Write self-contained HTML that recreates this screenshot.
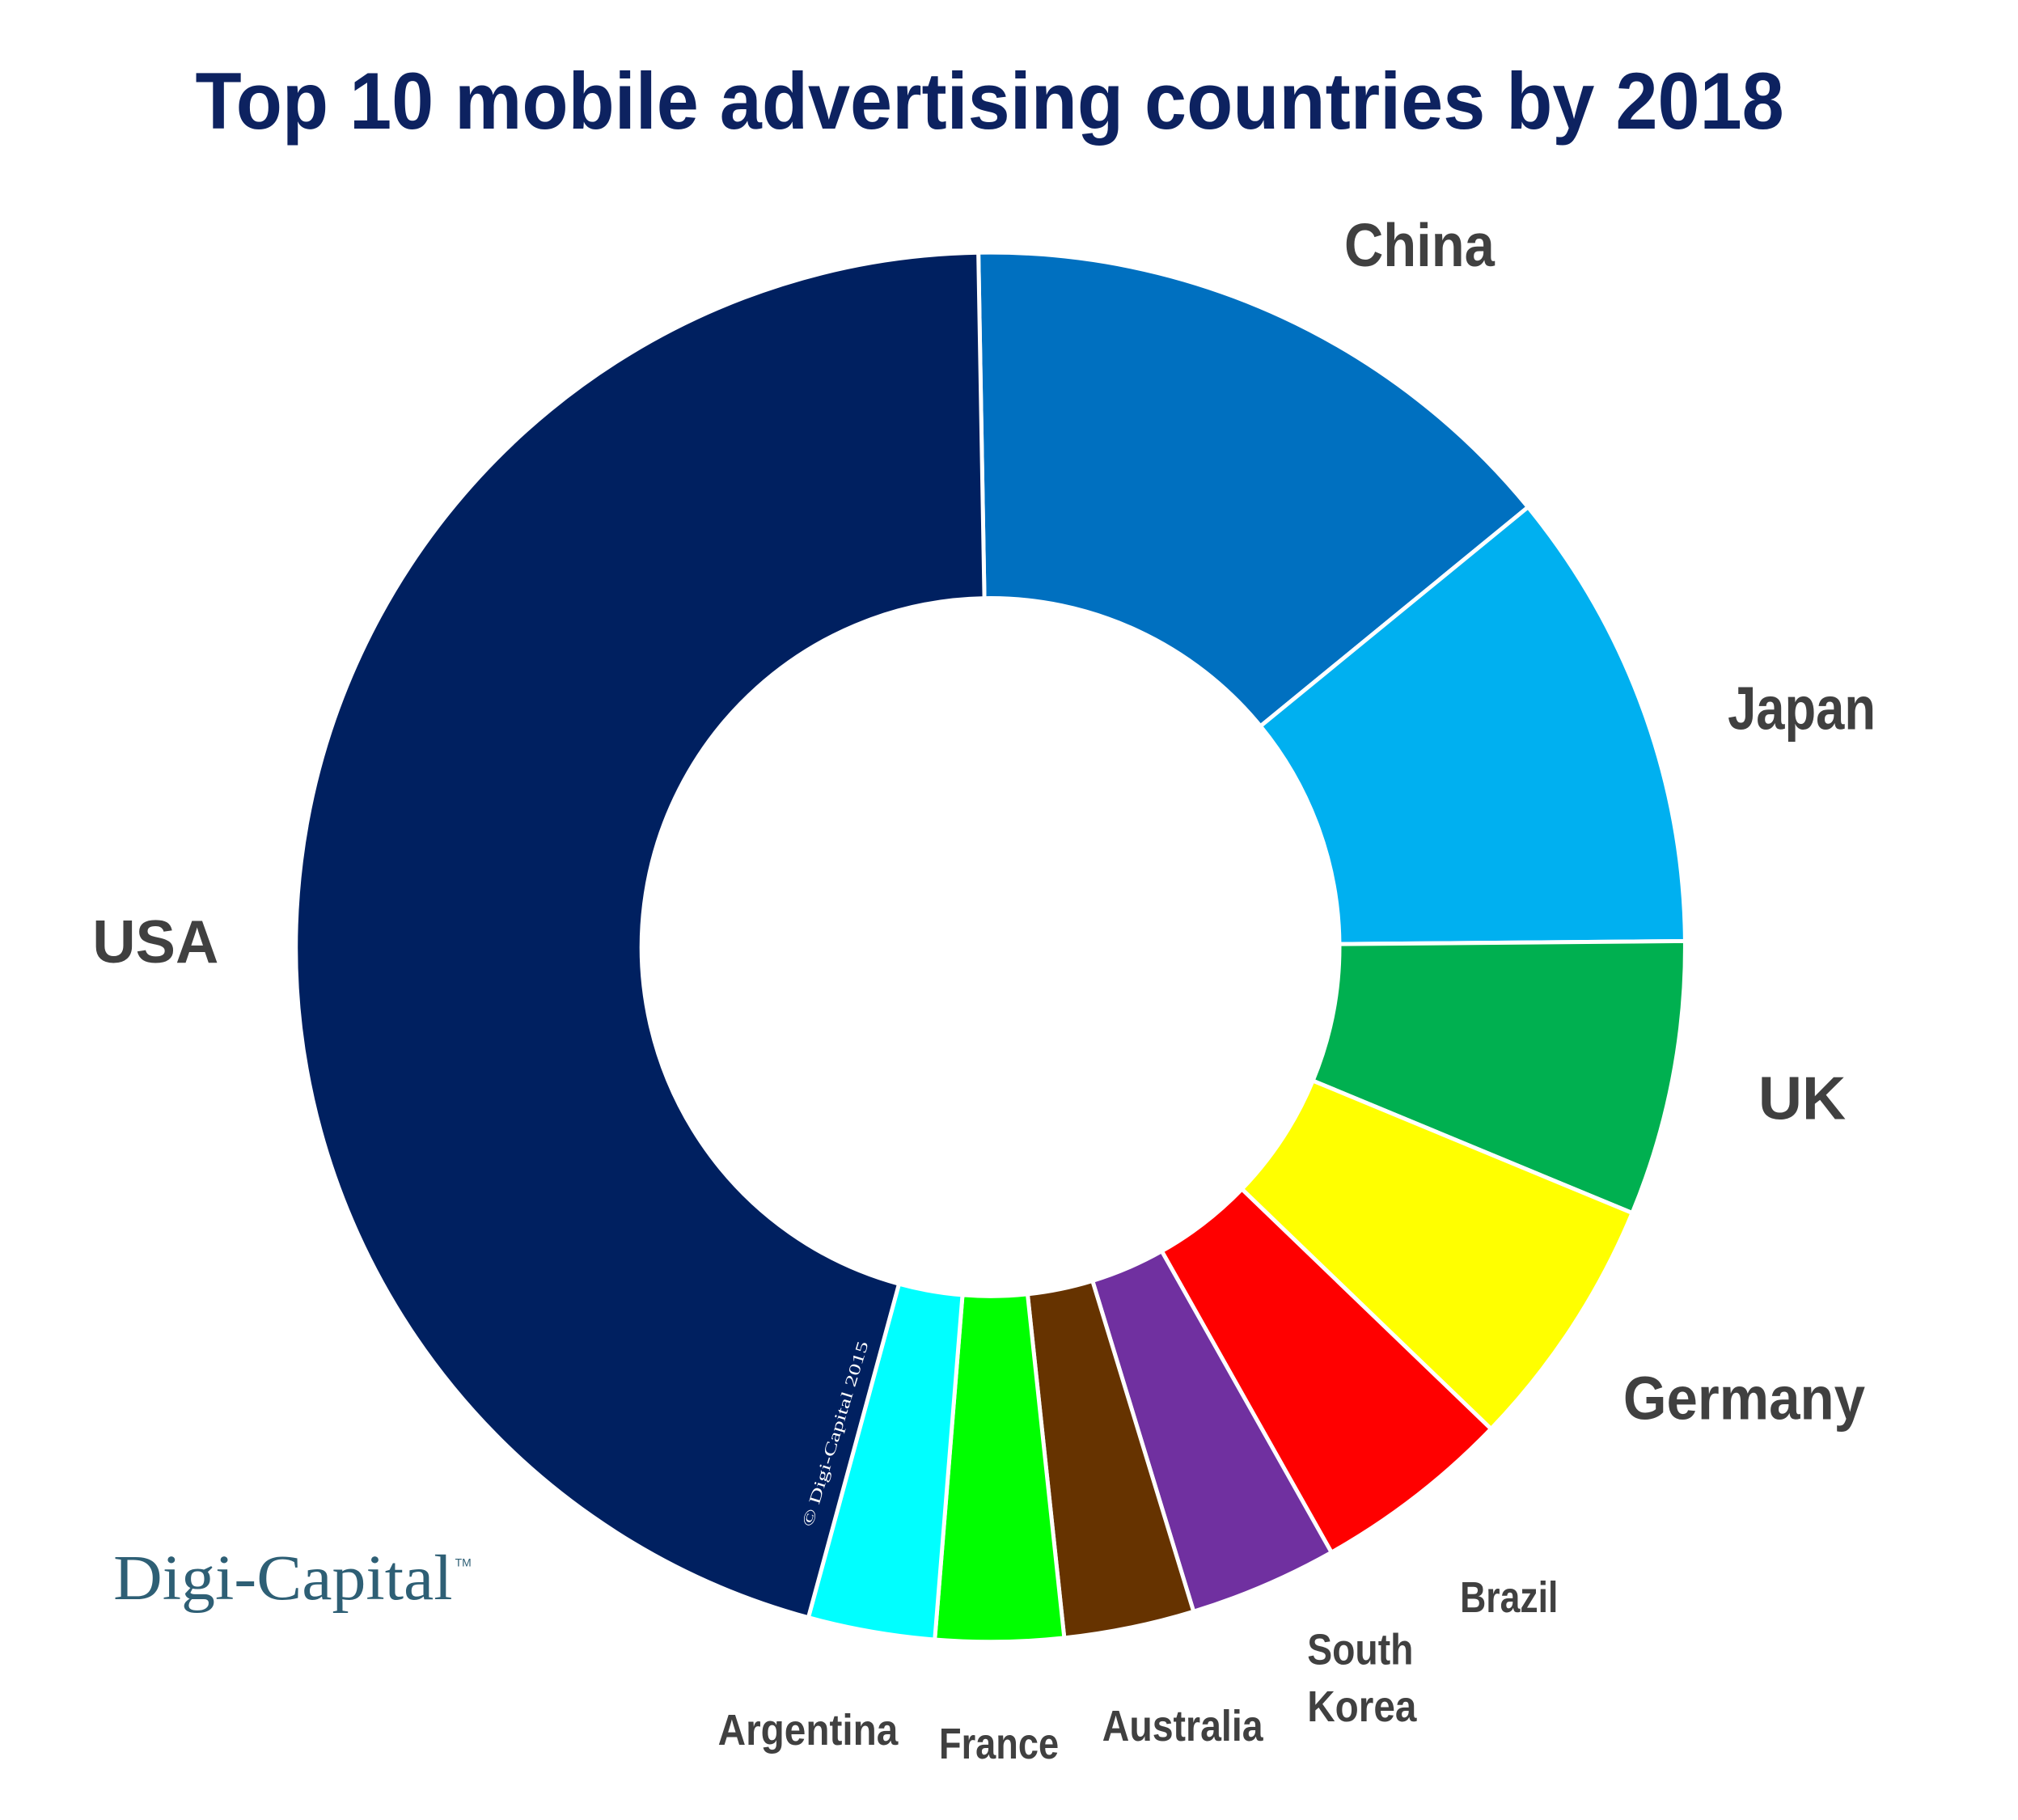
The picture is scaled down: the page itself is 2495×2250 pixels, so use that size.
<!DOCTYPE html>
<html><head><meta charset="utf-8"><style>
html,body{margin:0;padding:0;background:#fff;}
svg{display:block;}
.l{font-family:"Liberation Sans",sans-serif;font-weight:bold;fill:#404040;}
</style></head><body>
<svg id="s" width="2495" height="2250" viewBox="0 0 2495 2250" xmlns="http://www.w3.org/2000/svg">
<g transform="scale(0.994)">
<g id="donut"></g>
<text x="243" y="160" textLength="1976" lengthAdjust="spacingAndGlyphs" font-family="Liberation Sans, sans-serif" font-weight="bold" font-size="100" fill="#0d2260">Top 10 mobile advertising countries by 2018</text>
<text class="l" x="1672" y="331" textLength="187" lengthAdjust="spacingAndGlyphs" font-size="76">China</text>
<text class="l" x="2149" y="907" textLength="184" lengthAdjust="spacingAndGlyphs" font-size="76">Japan</text>
<text class="l" x="2187" y="1392" textLength="109" lengthAdjust="spacingAndGlyphs" font-size="76">UK</text>
<text class="l" x="2019" y="1765" textLength="301" lengthAdjust="spacingAndGlyphs" font-size="76">Germany</text>
<text class="l" x="115" y="1197" textLength="157" lengthAdjust="spacingAndGlyphs" font-size="76">USA</text>
<text class="l" x="1816" y="2005" textLength="122" lengthAdjust="spacingAndGlyphs" font-size="54">Brazil</text>
<text class="l" x="1626" y="2070" textLength="132" lengthAdjust="spacingAndGlyphs" font-size="54">South</text>
<text class="l" x="1626" y="2141" textLength="136" lengthAdjust="spacingAndGlyphs" font-size="54">Korea</text>
<text class="l" x="1371" y="2165" textLength="200" lengthAdjust="spacingAndGlyphs" font-size="54">Australia</text>
<text class="l" x="1168" y="2187" textLength="149" lengthAdjust="spacingAndGlyphs" font-size="54">France</text>
<text class="l" x="893" y="2170" textLength="224" lengthAdjust="spacingAndGlyphs" font-size="54">Argentina</text>
<text x="141" y="1989" textLength="422" lengthAdjust="spacingAndGlyphs" font-family="Liberation Serif, serif" font-size="80" fill="#2e5f75">Digi-Capital</text>
<text x="566" y="1948" font-family="Liberation Sans, sans-serif" font-size="14" fill="#2e5f75">TM</text>
<text transform="translate(1010,1900) rotate(-73)" font-family="Liberation Serif, serif" font-size="20" fill="#fff" textLength="240" lengthAdjust="spacingAndGlyphs">© Digi-Capital 2015</text>
</g>
</svg>
<script>
(function(){
var cx=1232,cy=1178,R=864,r=434;
var b=[-1,50.7,89.5,112.5,133.9,150.6,163,173.9,184.6,195.2,359];
var c=["#0070c0","#00b0f0","#00b050","#ffff00","#ff0000","#7030a0","#663300","#00ff00","#00ffff","#002060"];
function p(a,rad){var t=a*Math.PI/180;return [cx+rad*Math.sin(t),cy-rad*Math.cos(t)];}
var g=document.getElementById('donut'),h='';
for(var i=0;i<10;i++){var a0=b[i],a1=b[i+1],lg=(a1-a0)>180?1:0;
var o0=p(a0,R),o1=p(a1,R),i1=p(a1,r),i0=p(a0,r);
h+='<path d="M'+o0+' A'+R+','+R+' 0 '+lg+' 1 '+o1+' L'+i1+' A'+r+','+r+' 0 '+lg+' 0 '+i0+' Z" fill="'+c[i]+'" stroke="#fff" stroke-width="5" stroke-linejoin="bevel"/>';}
g.innerHTML=h;
})();
</script>
</body></html>
